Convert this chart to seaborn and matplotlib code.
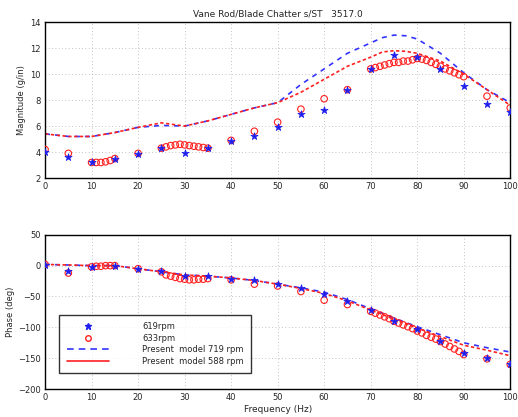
import numpy as np
import pandas as pd
import seaborn as sns
import matplotlib
matplotlib.use("Agg")
import matplotlib.pyplot as plt
from matplotlib.lines import Line2D

# ---------------- data ----------------
freq_619 = [0, 5, 10, 15, 20, 25, 30, 35, 40, 45, 50, 55, 60, 65, 70, 75, 80, 85, 90, 95, 100]
mag_619 = [4.0, 3.6, 3.2, 3.5, 3.85, 4.3, 3.95, 4.3, 4.85, 5.2, 5.9, 6.9, 7.25, 8.8, 10.4, 11.5, 11.3, 10.4, 9.1, 7.7, 7.1]
phase_619 = [1, -9, -3, 0, -5, -9, -16, -17, -21, -24, -30, -36, -46, -57, -72, -89, -103, -122, -141, -150, -159]

freq_633 = [0, 5, 10, 11, 12, 13, 14, 15, 20, 25, 26, 27, 28, 29, 30, 31, 32, 33, 34, 35,
            40, 45, 50, 55, 60, 65, 70, 71, 72, 73, 74, 75, 76, 77, 78, 79, 80,
            81, 82, 83, 84, 85, 86, 87, 88, 89, 90, 95, 100]
mag_633 = [4.2, 3.9, 3.2, 3.2, 3.2, 3.25, 3.35, 3.5, 3.9, 4.3, 4.4, 4.5, 4.55, 4.6, 4.55, 4.5, 4.45, 4.4, 4.35, 4.3,
           4.9, 5.6, 6.3, 7.3, 8.1, 8.8, 10.4, 10.5, 10.6, 10.7, 10.8, 10.9, 10.9, 11.0, 11.0, 11.1, 11.2,
           11.15, 11.05, 10.9, 10.75, 10.6, 10.4, 10.25, 10.1, 9.95, 9.8, 8.3, 7.4]
phase_633 = [2, -12, -2, -1, -1, 0, 0, 0, -5, -10, -15, -17, -19, -21, -22, -23, -23, -22, -22, -21,
             -23, -30, -33, -42, -56, -63, -74, -77, -80, -83, -86, -90, -93, -96, -99, -102, -106,
             -109, -113, -116, -119, -123, -127, -131, -135, -139, -144, -151, -160]

freq_model = [0, 5, 10, 15, 20, 25, 30, 35, 40, 45, 50, 55, 60, 65, 70, 72.5, 75, 77.5, 80, 85, 90, 95, 100]
mag_719 = [5.4, 5.2, 5.2, 5.5, 5.9, 6.05, 6.0, 6.4, 6.9, 7.4, 7.8, 9.2, 10.4, 11.6, 12.4, 12.8, 13.0, 12.95, 12.7, 11.6, 10.1, 8.8, 7.8]
mag_588 = [5.4, 5.2, 5.2, 5.5, 5.9, 6.25, 6.0, 6.4, 6.9, 7.4, 7.8, 8.6, 9.6, 10.6, 11.3, 11.7, 11.8, 11.75, 11.6, 11.0, 10.0, 8.8, 7.6]
phase_719 = [2, 1, 0, 0, -5, -10, -15, -17, -20, -24, -30, -36, -43, -55, -70, -77, -85, -92, -99, -112, -125, -133, -140]
phase_588 = [2, 1, 0, 0, -5, -10, -15, -17, -20, -24, -30, -37, -45, -57, -72, -79, -87, -94, -101, -115, -129, -137, -146]

labels = ["619rpm", "633rpm", "Present  model 719 rpm", "Present  model 588 rpm"]
title = "Vane Rod/Blade Chatter s/ST   3517.0"

# ---------------- plot ----------------
sns.set_theme(style="white")
plt.rcParams["font.family"] = ["DejaVu Sans"]
plt.rcParams["font.size"] = 6

fig = plt.figure(figsize=(5.18, 4.17), dpi=100)
ax1 = fig.add_axes([0.087, 0.573, 0.898, 0.374])
ax2 = fig.add_axes([0.087, 0.067, 0.898, 0.370])

d619 = pd.DataFrame({"f": freq_619, "m": mag_619, "p": phase_619})
d633 = pd.DataFrame({"f": freq_633, "m": mag_633, "p": phase_633})
dmod = pd.DataFrame({"f": freq_model, "m719": mag_719, "m588": mag_588,
                     "p719": phase_719, "p588": phase_588})


def draw(ax, ycol, y719, y588):
    sns.lineplot(data=dmod, x="f", y=y719, ax=ax, color="#3333ff", linewidth=1.2,
                 estimator=None, sort=False, linestyle=(0, (3, 3)))
    sns.lineplot(data=dmod, x="f", y=y588, ax=ax, color="#ff2020", linewidth=1.2,
                 estimator=None, sort=False, linestyle=(0, (2, 1.5)))
    sns.scatterplot(data=d633, x="f", y=ycol, ax=ax, marker="o", s=22,
                    facecolors="none", edgecolor="#ff2020", linewidth=0.8, zorder=3)
    sns.scatterplot(data=d619, x="f", y=ycol, ax=ax, marker="*", s=30,
                    color="#2020ee", edgecolor="#2020ee", linewidth=0.5, zorder=4)


draw(ax1, "m", "m719", "m588")
draw(ax2, "p", "p719", "p588")

ax1.set_xlim(0, 100)
ax1.set_ylim(2, 14)
ax1.set_yticks(np.arange(2, 15, 2))
ax2.set_xlim(0, 100)
ax2.set_ylim(-200, 50)
ax2.set_yticks([50, 0, -50, -100, -150, -200])

for ax in (ax1, ax2):
    ax.set_xticks(np.arange(0, 101, 10))
    ax.grid(True, linestyle=(0, (1, 3)), color="#b0b0b0", linewidth=0.6)
    ax.tick_params(direction="in", length=3, labelsize=6, pad=3, color="black")
    for sp in ax.spines.values():
        sp.set_color("black")
        sp.set_linewidth(1.0)
    ax.set_xlabel("")
    ax.set_ylabel("")

ax1.set_title(title, fontsize=6.5, pad=4)
ax1.set_ylabel("Magnitude (g/in)", fontsize=6, labelpad=3)
ax2.set_ylabel("Phase (deg)", fontsize=6, labelpad=2)
ax2.set_xlabel("Frequency (Hz)", fontsize=6.5, labelpad=2)

handles = [
    Line2D([], [], marker="*", color="#2020ee", linestyle="none", markersize=5),
    Line2D([], [], marker="o", markerfacecolor="none", markeredgecolor="#ff2020", linestyle="none", markersize=4),
    Line2D([], [], color="#3333ff", linestyle=(0, (4, 3)), linewidth=1.2),
    Line2D([], [], color="#ff2020", linestyle="-", linewidth=1.2),
]
leg = ax2.legend(handles, labels, loc="lower left", bbox_to_anchor=(0.022, 0.075),
                 fontsize=6, frameon=True, fancybox=False, handlelength=5.0,
                 labelspacing=0.3, borderpad=0.9, handletextpad=4.0)
leg.get_frame().set_edgecolor("black")
leg.get_frame().set_linewidth(1.0)

fig.savefig("out.png", dpi=100)
